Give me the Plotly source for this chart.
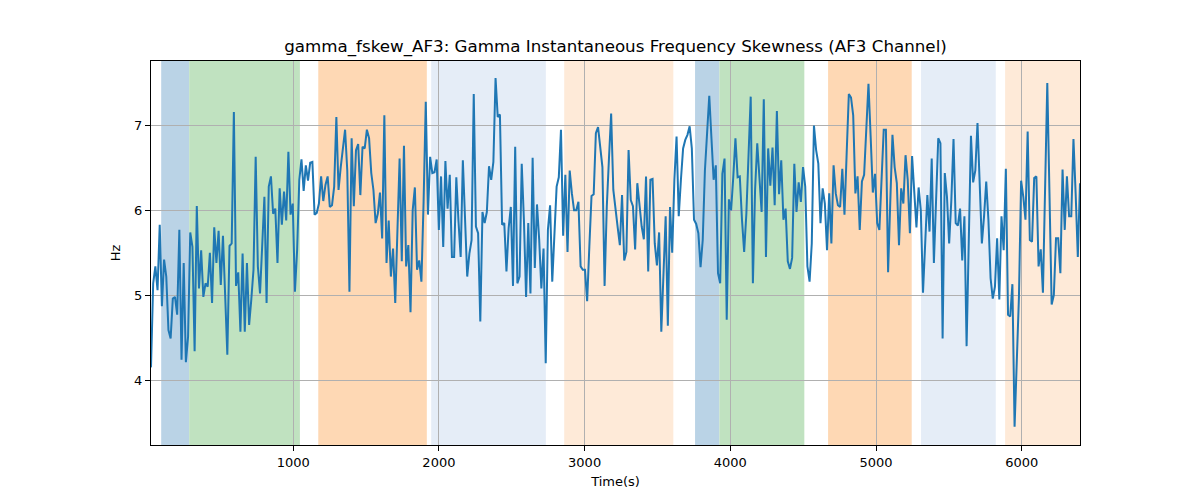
import plotly.graph_objects as go

# Skewness values (Hz), read left to right in segments
seg_a = [4.15, 5.14, 5.34, 5.06, 5.83, 4.87, 5.42, 5.22, 4.59, 4.49, 4.96, 4.98, 4.77, 5.77, 4.24, 5.38,
         4.21, 4.51, 5.74, 5.57, 4.34, 6.05, 5.08, 5.53, 4.98, 5.14, 5.10, 5.50, 4.91, 5.80, 5.38, 5.76,
         5.12, 5.70, 5.0, 4.30, 5.58, 5.61, 7.16, 5.11, 5.27, 4.57, 5.49, 4.57, 5.38, 4.65, 4.95, 5.30, 6.63]
seg_b = [5.34, 5.02, 5.6, 6.16, 4.91, 6.28, 6.40, 5.96, 6.02, 5.38, 6.26, 5.83, 6.22, 5.88, 6.69, 5.95,
         6.08, 5.04, 5.53, 6.36, 6.60, 6.23, 6.53, 6.35, 6.56, 6.57, 5.95, 5.97, 6.08, 6.40, 6.11, 6.30,
         6.40, 6.04, 6.06, 6.28, 7.10, 6.24, 6.51, 6.73, 6.95, 6.47, 5.04, 6.85, 6.05, 6.71, 6.78, 6.18,
         6.75, 6.73]
seg_c = [6.95, 6.85, 6.44, 6.24, 5.85, 5.96, 6.21, 5.67, 7.12, 5.38, 5.88, 5.22, 5.55, 4.91, 5.77, 6.61,
         5.40, 6.76, 5.34, 5.59, 4.80, 6.00, 6.27, 5.30, 5.41, 5.16, 6.1, 7.28, 5.95, 6.63, 6.44, 6.45,
         6.60, 5.77, 6.40, 5.57, 6.58, 6.02, 6.42, 5.45, 5.45, 6.39, 5.87, 5.45, 6.59, 5.77, 5.22, 5.49, 5.65]
seg_d = [7.37, 5.81, 5.73, 4.69, 5.98, 5.85, 5.98, 6.52, 6.36, 6.57, 7.56, 7.10, 7.13, 5.83, 5.85, 5.28,
         5.79, 6.04, 5.11, 6.75, 5.14, 5.22, 6.55, 5.89, 4.98, 5.85, 5.02, 6.62, 5.32, 6.07, 5.66, 5.08,
         5.55, 4.20, 5.77, 6.06, 5.16, 5.73, 6.28, 6.39, 6.95, 5.70, 6.42, 5.51, 6.47, 6.20, 6.00, 6.00, 6.10]
seg_e = [5.34, 5.30, 5.30, 4.93, 5.57, 6.17, 6.19, 6.91, 6.98, 6.77, 6.51, 5.11, 6.04, 6.61, 7.14, 6.24,
         5.98, 5.80, 5.59, 6.18, 5.41, 5.51, 6.71, 6.12, 6.05, 5.54, 6.32, 6.08, 5.81, 5.66, 6.40, 5.28,
         6.36, 6.37, 5.61, 5.35, 5.74, 4.57, 5.3, 5.93, 4.64, 6.04, 5.50, 6.36, 6.87, 5.93, 6.36, 6.73, 6.83]
seg_f = [6.89, 6.99, 6.73, 5.89, 5.84, 5.73, 5.33, 5.65, 6.47, 6.91, 7.35, 6.85, 6.36, 6.53, 5.26, 5.14,
         6.43, 6.61, 4.71, 6.13, 6.00, 6.39, 6.85, 6.39, 6.40, 5.89, 5.51, 5.96, 6.75, 7.34, 5.14, 6.24,
         6.79, 6.44, 5.98, 7.31, 5.45, 6.73, 6.29, 6.74, 6.06, 7.17, 6.19, 6.59, 5.89, 6.02, 5.40, 5.31, 5.44]
seg_g = [6.55, 5.98, 6.33, 6.10, 6.51, 6.28, 5.34, 5.16, 5.61, 7.00, 6.71, 6.55, 5.85, 6.26, 6.08, 5.53,
         6.20, 5.61, 6.53, 6.20, 6.06, 6.04, 6.49, 5.95, 6.67, 7.37, 7.33, 7.12, 6.20, 6.40, 5.77, 6.34,
         6.42, 6.95, 7.49, 6.87, 6.21, 6.43, 5.85, 5.77, 6.3, 6.95, 6.95, 5.27, 6.1, 6.89, 6.51, 6.32, 5.59]
seg_h = [6.26, 6.08, 6.65, 6.36, 5.73, 6.64, 6.16, 5.80, 6.27, 6.00, 5.03, 5.65, 6.18, 5.75, 6.61, 5.38,
         6.24, 6.85, 6.79, 4.49, 6.44, 6.16, 5.61, 6.12, 6.84, 5.85, 5.82, 6.02, 5.41, 5.93, 4.40, 5.6,
         6.88, 6.33, 6.47, 7.03, 6.32, 5.61, 5.93, 6.34, 5.89, 5.20, 4.96, 5.10, 5.67, 4.95, 5.93, 5.53, 6.49]
seg_i = [4.77, 4.75, 5.13, 3.45, 4.3, 4.98, 6.35, 6.16, 5.89, 6.93, 5.65, 5.63, 6.38, 6.40, 5.34, 5.54,
         5.03, 6.2, 7.50, 6.2, 4.89, 5.00, 5.67, 5.67, 5.26, 6.48, 5.77, 6.40, 5.93, 5.93, 6.84, 6.20,
         5.45, 6.32]

t_start = 24.0
t_end = 6400.0

# Shaded intervals (seconds)
span_starts = [94, 286, 1172, 1947, 2860, 3758, 3925, 4671, 5309, 5886]
span_ends = [286, 1046, 1917, 2734, 3609, 3925, 4508, 5245, 5822, 6420]
span_colors = ["#bad3e6", "#c0e2c0", "#fed8b4", "#e5edf7", "#feead8",
               "#bad3e6", "#c0e2c0", "#fed8b4", "#e5edf7", "#feead8"]

x_ticks = [1000, 2000, 3000, 4000, 5000, 6000]
y_ticks = [4, 5, 6, 7]

values = seg_a + seg_b + seg_c + seg_d + seg_e + seg_f + seg_g + seg_h + seg_i
n = len(values)
step = (t_end - t_start) / (n - 1)
times = [t_start + i * step for i in range(n)]

fig = go.Figure()
for s, e, c in zip(span_starts, span_ends, span_colors):
    fig.add_shape(type="rect", xref="x", yref="paper", x0=s, x1=e, y0=0, y1=1,
                  fillcolor=c, line=dict(width=0), layer="below")

fig.add_trace(go.Scatter(x=times, y=values, mode="lines",
                         line=dict(color="#1f77b4", width=2), showlegend=False))

font = "DejaVu Sans, Liberation Sans, sans-serif"
# The page body adds an 8px offset, so the figure is sized 1192x492 to land the axes where the reference has them
fig.update_layout(
    width=1192, height=492,
    margin=dict(l=143, r=120, t=53, b=55, autoexpand=False),
    paper_bgcolor="white", plot_bgcolor="white",
    font=dict(family=font, size=13, color="black"),
    title=dict(text="gamma_fskew_AF3: Gamma Instantaneous Frequency Skewness (AF3 Channel)",
               xref="paper", x=0.5, xanchor="center",
               yref="container", y=1 - 38 / 492, yanchor="middle",
               font=dict(size=16.7, family=font, color="black")),
)
fig.update_xaxes(range=[t_start, t_end], tickvals=x_ticks, ticks="outside", ticklen=5,
                 tickcolor="black", showgrid=True, gridcolor="#b0b0b0", gridwidth=1,
                 showline=True, linecolor="black", linewidth=1, mirror=True, zeroline=False,
                 tickfont=dict(size=13), title=dict(text="Time(s)", font=dict(size=13), standoff=8))
fig.update_yaxes(range=[3.235, 7.76], tickvals=y_ticks, ticks="outside", ticklen=5,
                 tickcolor="black", showgrid=True, gridcolor="#b0b0b0", gridwidth=1,
                 showline=True, linecolor="black", linewidth=1, mirror=True, zeroline=False,
                 tickfont=dict(size=13), title=dict(text="Hz", font=dict(size=13), standoff=10))

fig.write_html("out.html")
